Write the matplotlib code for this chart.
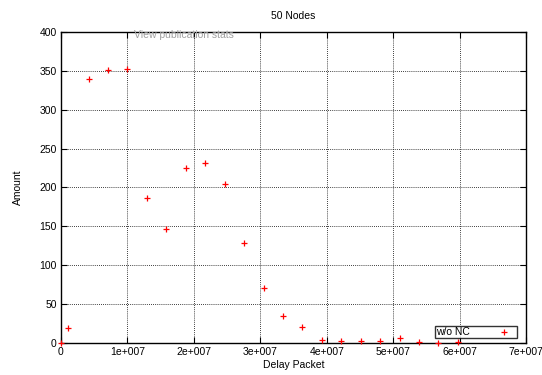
import matplotlib
matplotlib.use("Agg")
import matplotlib.pyplot as plt
import numpy as np

plt.rcParams['font.family'] = ['Liberation Sans', 'DejaVu Sans']
plt.rcParams['font.size'] = 7.5

# delay packet (x) and amount (y)
delay = [0, 1.05e6, 4.2e6, 7.1e6, 9.9e6, 1.30e7, 1.58e7, 1.88e7, 2.17e7, 2.47e7,
         2.76e7, 3.06e7, 3.34e7, 3.63e7, 3.93e7, 4.22e7, 4.52e7, 4.80e7, 5.10e7,
         5.39e7, 5.68e7, 5.98e7]
amount = [0, 19, 340, 351, 353, 186, 146, 225, 231, 205,
          128, 71, 35, 21, 4, 3, 3, 2, 6, 1, 0, 1]

xticks = np.arange(0, 7.01e7, 1e7)
xlabels = ['0', '1e+007', '2e+007', '3e+007', '4e+007', '5e+007', '6e+007', '7e+007']
yticks = np.arange(0, 401, 50)

fig = plt.figure(figsize=(5.42, 3.75), dpi=100)
ax = fig.add_axes([0.1125, 0.0853, 0.858, 0.8294])

ax.plot(delay, amount, ls='none', marker='+', ms=5, mew=0.9, color='red',
        label='w/o NC', clip_on=False, zorder=3)

ax.set_xlim(0, 7e7)
ax.set_ylim(0, 400)
ax.set_xticks(xticks)
ax.set_xticklabels(xlabels)
ax.set_yticks(yticks)
ax.tick_params(direction='in', top=True, right=True, length=4, width=0.8, pad=3)
ax.grid(True, color='black', ls=(0, (1, 1.5)), lw=0.6)
for s in ax.spines.values():
    s.set_linewidth(1.0)

ax.set_title('50 Nodes', fontsize=7.5, pad=9)
ax.set_xlabel('Delay Packet', labelpad=2)
ax.set_ylabel('Amount', labelpad=12)

leg = ax.legend(loc='lower right', bbox_to_anchor=(0.98, 0.015), frameon=True,
                fancybox=False, edgecolor='black', markerfirst=False,
                handlelength=2.2, handletextpad=2.2, borderpad=0.1,
                borderaxespad=0)
leg.get_frame().set_linewidth(1.0)

ax.text(1.1e7, 396, 'View publication stats', color='#a0a0a0', fontsize=7.5,
        va='center', ha='left')

fig.savefig('out.png', dpi=100)
